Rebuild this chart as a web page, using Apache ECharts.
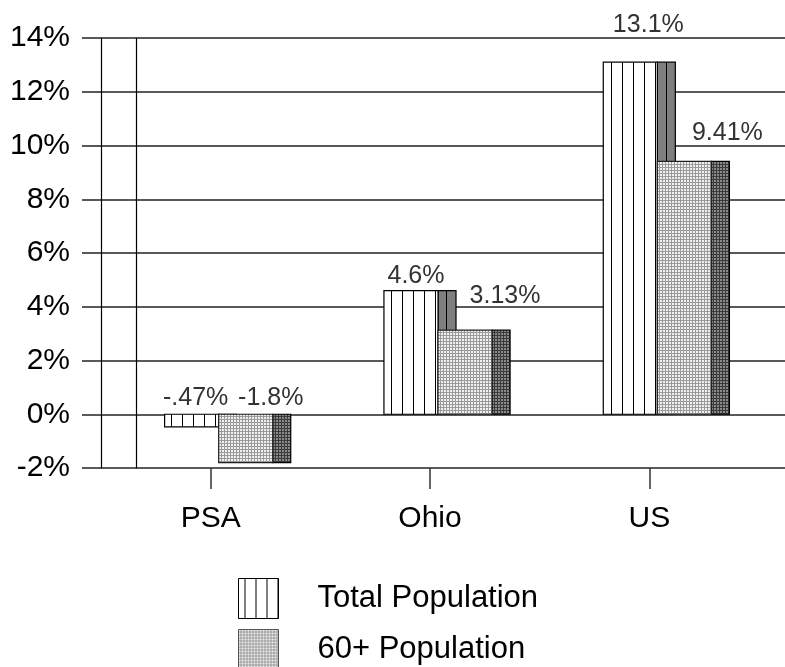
<!DOCTYPE html>
<html><head><meta charset="utf-8">
<script src="https://cdn.jsdelivr.net/npm/echarts@6/dist/echarts.min.js"></script>
<style>html,body{margin:0;padding:0;background:#fff}#c{width:785px;height:667px}</style>
</head><body><div id="c"></div>
<script>
const categories = ['PSA', 'Ohio', 'US'];
const totalPopulation = [-0.47, 4.6, 13.1];
const population60 = [-1.8, 3.13, 9.41];
const totalLabels = ['-.47%', '4.6%', '13.1%'];
const population60Labels = ['-1.8%', '3.13%', '9.41%'];
const yMin = -2, yMax = 14, yInterval = 2;

// label placement style (px offsets from front-face top centre)
const totalLabelOffset = [[4, 16], [5, 15], [18, 37]];
const pop60LabelOffset = [[25, 16], [40, 34], [43, 28]];

const FONT = "'Liberation Sans', Arial, sans-serif";

function makePattern(w, h, draw) {
  const cv = document.createElement('canvas');
  cv.width = w; cv.height = h;
  const ctx = cv.getContext('2d');
  draw(ctx);
  return { image: cv, repeat: 'repeat' };
}
const vertFront = makePattern(11, 4, c => { c.fillStyle = '#fff'; c.fillRect(0,0,11,4); c.fillStyle = '#000'; c.fillRect(6,0,1,4); });
const vertSide = makePattern(11, 4, c => { c.fillStyle = '#7f7f7f'; c.fillRect(0,0,11,4); c.fillStyle = '#000'; c.fillRect(6,0,1,4); });
const dotFront = makePattern(3, 3, c => { c.fillStyle = '#9a9a9a'; c.fillRect(0,0,3,3); c.fillStyle = '#f0f0f0'; c.fillRect(0,0,2,2); });
const dotSide = makePattern(3, 3, c => { c.fillStyle = '#3a3a3a'; c.fillRect(0,0,3,3); c.fillStyle = '#8a8a8a'; c.fillRect(0,0,2,2); });

function barRenderer(frontStart, frontFill, sideFill, labels, offsets, frontStroke) {
  return function (params, api) {
    const i = api.value(0), v = api.value(1);
    const top = api.coord([i, Math.max(v, 0)]);
    const bot = api.coord([i, Math.min(v, 0)]);
    const cx = api.coord([i, 0])[0];
    const bw = api.size([1, 0])[0];
    const fx = cx + frontStart * bw;
    const fw = 0.2466 * bw;
    const sw = 0.082 * bw;
    const h = bot[1] - top[1];
    const off = offsets[params.dataIndex];
    return {
      type: 'group',
      children: [
        { type: 'rect', shape: { x: fx + fw, y: top[1], width: sw, height: h },
          style: { fill: sideFill, stroke: '#000', lineWidth: 1.2 } },
        { type: 'rect', shape: { x: fx, y: top[1], width: fw, height: h },
          style: { fill: frontFill, stroke: frontStroke, lineWidth: 1.2 } },
        { type: 'text', z2: 10, style: { text: labels[params.dataIndex], x: fx + fw / 2 + off[0], y: top[1] - off[1],
          align: 'center', verticalAlign: 'middle', fontSize: 25, fontFamily: FONT, fill: '#333' } }
      ]
    };
  };
}

const chart = echarts.init(document.getElementById('c'));
chart.setOption({
  animation: false,
  backgroundColor: '#fff',
  grid: [
    { left: 101, right: 26, top: 38, bottom: 199 },
    { left: 82, right: 0, top: 38, bottom: 199 }
  ],
  xAxis: [
    { type: 'category', gridIndex: 0, data: categories,
      axisLine: { show: false, onZero: false },
      axisTick: { show: true, alignWithLabel: true, length: 21, lineStyle: { color: '#333', width: 1.5 } },
      axisLabel: { fontSize: 30, fontFamily: FONT, color: '#000', margin: 36 } },
    { type: 'value', gridIndex: 1, show: false }
  ],
  yAxis: [
    { type: 'value', gridIndex: 0, min: yMin, max: yMax, interval: yInterval,
      axisLine: { show: true, lineStyle: { color: '#000', width: 1.2 } },
      axisTick: { show: false }, axisLabel: { show: false }, splitLine: { show: false } },
    { type: 'value', gridIndex: 0, min: yMin, max: yMax, interval: yInterval, position: 'left', offset: -35,
      axisLine: { show: true, lineStyle: { color: '#000', width: 1.2 } },
      axisTick: { show: false }, axisLabel: { show: false }, splitLine: { show: false } },
    { type: 'value', gridIndex: 1, min: yMin, max: yMax, interval: yInterval,
      axisLine: { show: false }, axisTick: { show: false },
      axisLabel: { formatter: '{value}%', fontSize: 30, fontFamily: FONT, color: '#000', margin: 12 },
      splitLine: { show: true, lineStyle: { color: '#222', width: 1.5 } } }
  ],
  legend: {
    orient: 'vertical', left: 238, top: 578, width: 400, height: 140, padding: 0,
    itemWidth: 40, itemHeight: 40, itemGap: 10,
    icon: 'rect', selectedMode: false,
    textStyle: { fontSize: 31, fontFamily: FONT, color: '#000', padding: [0, 0, 0, 34] },
    data: [
      { name: 'Total Population', itemStyle: { color: vertFront, borderColor: '#000', borderWidth: 1 } },
      { name: '60+ Population', itemStyle: { color: dotFront, borderColor: '#555', borderWidth: 1 } }
    ]
  },
  series: [
    { name: 'Total Population', type: 'custom', xAxisIndex: 0, yAxisIndex: 0,
      itemStyle: { color: vertFront },
      renderItem: barRenderer(-0.21, vertFront, vertSide, totalLabels, totalLabelOffset, '#000'),
      encode: { x: 0, y: 1 },
      data: totalPopulation.map((v, i) => [i, v]) },
    { name: '60+ Population', type: 'custom', xAxisIndex: 0, yAxisIndex: 0,
      itemStyle: { color: dotFront },
      renderItem: barRenderer(0.0365, dotFront, dotSide, population60Labels, pop60LabelOffset, '#222'),
      encode: { x: 0, y: 1 },
      data: population60.map((v, i) => [i, v]) }
  ]
});
</script></body></html>
